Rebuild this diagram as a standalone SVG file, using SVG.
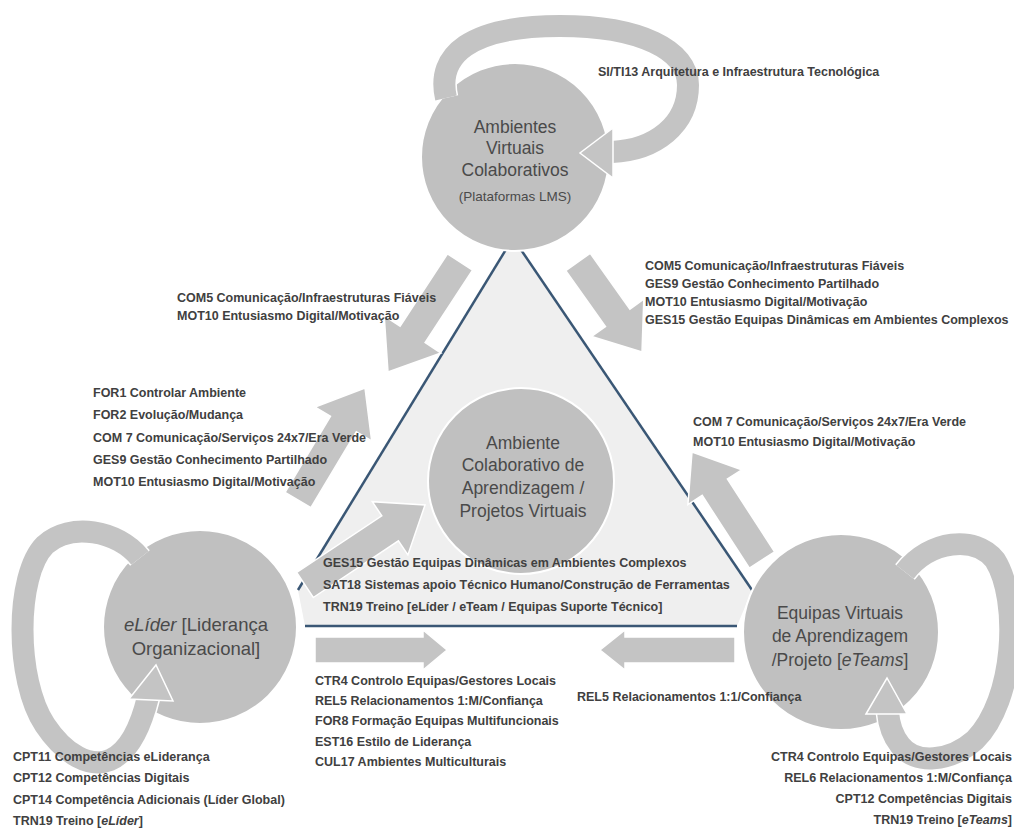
<svg xmlns="http://www.w3.org/2000/svg" width="1014" height="828" viewBox="0 0 1014 828">
<style>
.lbl{font-family:"Liberation Sans",Arial,sans-serif;font-size:12.5px;font-weight:bold;fill:#404040}
.nt{font-family:"Liberation Sans",Arial,sans-serif;font-size:17.5px;fill:#4a4a4a;text-anchor:middle}
.circ{fill:#c0c0c0;stroke:#ffffff;stroke-width:2}
.blk{fill:#c4c4c4;stroke:#ffffff;stroke-width:1.5}
.loopw{fill:none;stroke:#ffffff;stroke-width:25}
.loop{fill:none;stroke:#c4c4c4;stroke-width:22}
.edge{stroke:#3a5775;stroke-width:2.5;fill:none}
</style>
<rect width="1014" height="828" fill="#ffffff"/>
<g id="triangle">
<polygon points="513,238 752,590 737,626 305,626 298,590" fill="#efefef"/>
<line class="edge" x1="513" y1="238" x2="298" y2="590"/>
<line class="edge" x1="513" y1="238" x2="752" y2="590"/>
<line class="edge" x1="305" y1="626" x2="737" y2="626"/>
</g>
<g id="connectors">
<polygon class="blk" points="447.5,253.8 400.1,326.2 384.2,315.8 388,372 441,353 425.1,342.6 472.5,270.2"/>
<polygon class="blk" points="565.8,270.7 605.5,326.5 591.6,336.4 642,352 643.8,299.2 629.9,309.1 590.2,253.3"/>
<polygon class="blk" points="310.9,507.7 356.3,431.7 371.7,440.9 365,388 315.1,407.1 330.5,416.3 285.1,492.3"/>
<polygon class="blk" points="313.3,597.5 398.4,540.8 407.9,554.9 425,505 372.3,501.7 381.8,515.8 296.7,572.5"/>
<polygon class="blk" points="774.6,551.8 727.4,479 741.7,469.8 692,452 687.9,504.6 702.2,495.4 749.4,568.2"/>
<polygon class="blk" points="315,637 423,637 423,630 447,650 423,670 423,663 315,663"/>
<polygon class="blk" points="735,637 625,637 625,630 600,650 625,670 625,663 735,663"/>
</g>
<g id="node-top">
<circle class="circ" cx="515" cy="157" r="94"/>
<text class="nt" x="515" y="133">Ambientes</text>
<text class="nt" x="515" y="154">Virtuais</text>
<text class="nt" x="515" y="176">Colaborativos</text>
<text class="nt" x="515" y="201" style="font-size:13.5px">(Plataformas LMS)</text>
</g>
<g id="node-center">
<circle class="circ" cx="521" cy="481" r="93"/>
<text class="nt" x="523" y="449">Ambiente</text>
<text class="nt" x="523" y="471">Colaborativo de</text>
<text class="nt" x="523" y="494">Aprendizagem /</text>
<text class="nt" x="523" y="517">Projetos Virtuais</text>
</g>
<g id="node-left">
<circle class="circ" cx="200" cy="627" r="97"/>
<text class="nt" x="196" y="631" style="font-size:18.5px"><tspan font-style="italic">eLíder</tspan> [Liderança</text>
<text class="nt" x="196" y="655" style="font-size:18.5px">Organizacional]</text>
</g>
<g id="node-right">
<circle class="circ" cx="841" cy="632" r="98"/>
<text class="nt" x="840" y="619">Equipas Virtuais</text>
<text class="nt" x="840" y="642">de Aprendizagem</text>
<text class="nt" x="840" y="666">/Projeto [<tspan font-style="italic">eTeams</tspan>]</text>
</g>
<g id="loops">
<path class="loopw" d="M446,98 C436,55 470,26 560,26 C640,26 688,50 688,85 C688,125 655,150 612,152"/>
<path class="loop" d="M446,98 C436,55 470,26 560,26 C640,26 688,50 688,85 C688,125 655,150 612,152"/>
<polygon class="blk" points="613,128 580,153 613,178"/>
<path class="loopw" d="M140,558 C118,530 70,522 45,545 C15,575 15,680 45,725 C65,755 90,768 110,760 C128,752 140,730 148,697"/>
<path class="loop" d="M140,558 C118,530 70,522 45,545 C15,575 15,680 45,725 C65,755 90,768 110,760 C128,752 140,730 148,697"/>
<polygon class="blk" points="129,699 156,665 173,701"/>
<path class="loopw" d="M905,572 C930,540 975,535 995,560 C1020,600 1015,700 975,740 C950,762 915,765 900,745 C892,735 889,725 888,712"/>
<path class="loop" d="M905,572 C930,540 975,535 995,560 C1020,600 1015,700 975,740 C950,762 915,765 900,745 C892,735 889,725 888,712"/>
<polygon class="blk" points="866,714 887,678 907,714"/>
</g>
<g id="labels">
<text class="lbl" x="598" y="76">SI/TI13 Arquitetura  e Infraestrutura  Tecnológica</text>
<text class="lbl" x="177" y="302">COM5 Comunicação/Infraestruturas  Fiáveis</text>
<text class="lbl" x="177" y="320">MOT10 Entusiasmo Digital/Motivação</text>
<text class="lbl" x="645" y="270">COM5 Comunicação/Infraestruturas  Fiáveis</text>
<text class="lbl" x="645" y="288">GES9 Gestão Conhecimento  Partilhado</text>
<text class="lbl" x="645" y="306">MOT10 Entusiasmo Digital/Motivação</text>
<text class="lbl" x="645" y="324">GES15 Gestão Equipas Dinâmicas em Ambientes  Complexos</text>
<text class="lbl" x="93" y="397">FOR1 Controlar  Ambiente</text>
<text class="lbl" x="93" y="419">FOR2 Evolução/Mudança</text>
<text class="lbl" x="93" y="442">COM 7 Comunicação/Serviços  24x7/Era Verde</text>
<text class="lbl" x="93" y="464">GES9 Gestão Conhecimento  Partilhado</text>
<text class="lbl" x="93" y="486">MOT10 Entusiasmo  Digital/Motivação</text>
<text class="lbl" x="693" y="426">COM 7 Comunicação/Serviços  24x7/Era Verde</text>
<text class="lbl" x="693" y="446">MOT10 Entusiasmo  Digital/Motivação</text>
<text class="lbl" x="323" y="567">GES15 Gestão Equipas Dinâmicas em Ambientes  Complexos</text>
<text class="lbl" x="323" y="589">SAT18 Sistemas apoio  Técnico Humano/Construção  de Ferramentas</text>
<text class="lbl" x="323" y="611">TRN19 Treino  [eLíder  / eTeam  / Equipas  Suporte  Técnico]</text>
<text class="lbl" x="315" y="685">CTR4 Controlo  Equipas/Gestores  Locais</text>
<text class="lbl" x="315" y="705">REL5 Relacionamentos  1:M/Confiança</text>
<text class="lbl" x="315" y="725">FOR8 Formação Equipas  Multifuncionais</text>
<text class="lbl" x="315" y="746">EST16 Estilo de Liderança</text>
<text class="lbl" x="315" y="766">CUL17 Ambientes Multiculturais</text>
<text class="lbl" x="577" y="701">REL5 Relacionamentos  1:1/Confiança</text>
<text class="lbl" x="13" y="761">CPT11 Competências  eLiderança</text>
<text class="lbl" x="13" y="782">CPT12 Competências  Digitais</text>
<text class="lbl" x="13" y="804">CPT14 Competência  Adicionais (Líder Global)</text>
<text class="lbl" x="13" y="825">TRN19 Treino  [<tspan font-style="italic">eLíder</tspan>]</text>
<text class="lbl" x="1012" y="761" text-anchor="end">CTR4 Controlo  Equipas/Gestores  Locais</text>
<text class="lbl" x="1012" y="782" text-anchor="end">REL6 Relacionamentos  1:M/Confiança</text>
<text class="lbl" x="1012" y="803" text-anchor="end">CPT12 Competências  Digitais</text>
<text class="lbl" x="1012" y="824" text-anchor="end">TRN19 Treino  [<tspan font-style="italic">eTeams</tspan>]</text>
</g>
</svg>
